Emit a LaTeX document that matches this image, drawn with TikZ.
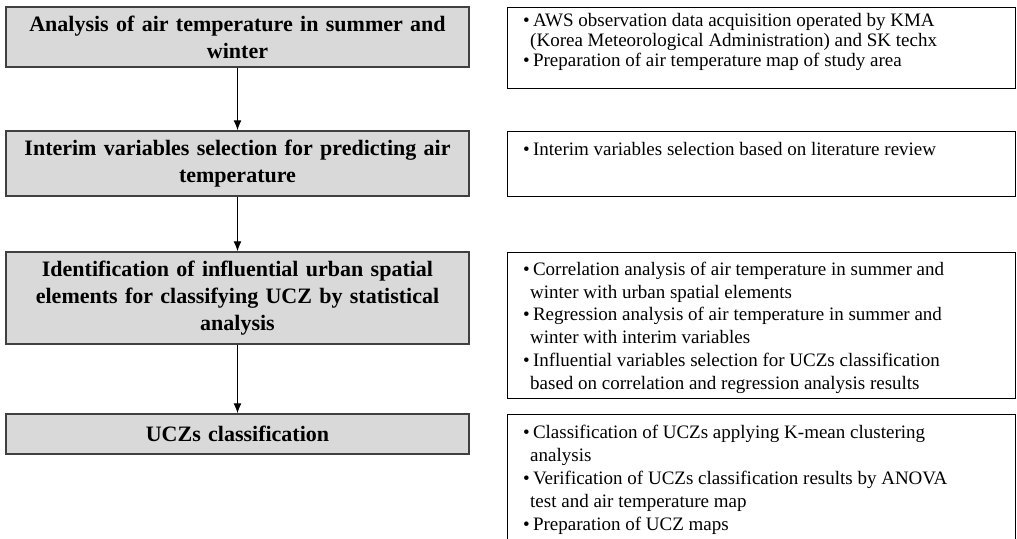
\documentclass[tikz,border=0pt]{standalone}
\usepackage{fontspec}
\setmainfont{Liberation Serif}
\usetikzlibrary{positioning,arrows.meta}

\tikzset{
  stage/.style={draw=black!75, line width=1.5pt, fill=black!15, minimum width=463pt,
    text width=450pt, align=center, inner sep=0pt,
    font=\fontsize{22}{27}\selectfont\bfseries},
  note/.style={draw=black, line width=1.2pt, minimum width=508pt, anchor=north west, inner sep=0pt},
  notetext/.style={anchor=north west, align=left, inner sep=0pt},
  flow/.style={-{Latex[length=10pt,width=8pt]}, line width=1.2pt}
}

\begin{document}
\begin{tikzpicture}[x=1pt,y=-1pt]
\useasboundingbox (0,0) rectangle (1017,538);
\clip (0,0) rectangle (1017,538);

% steps on the left
\node[stage, minimum height=60pt] (s1) at (237.5,37) {Analysis of air temperature in summer and\\winter};
\node[stage, minimum height=65pt] (s2) at (237.5,163.5) {Interim variables selection for predicting air\\temperature};
\node[stage, minimum height=92pt] (s3) at (237.5,298) {Identification of influential urban spatial\\elements for classifying UCZ by statistical\\analysis};
\node[stage, minimum height=40pt] (s4) at (237.5,434) {UCZs classification};

\draw[flow] (s1) -- (s2);
\draw[flow] (s2) -- (s3);
\draw[flow] (s3) -- (s4);

% details on the right
\node[note, minimum height=81pt] (n1) at (507,7) {};
\node[note, minimum height=65pt] (n2) at (507,131) {};
\node[note, minimum height=146pt] (n3) at (507,252) {};
\node[note, minimum height=135pt] (n4) at (507,414) {};

\node[notetext, font=\fontsize{19}{20}\selectfont] (t1) at ([shift={(16,6)}]n1.north west)
  {\textbullet\,AWS observation data acquisition operated by KMA\\
   \hspace*{7pt}(Korea Meteorological Administration) and SK techx\\
   \textbullet\,Preparation of air temperature map of study area};
\node[notetext, font=\fontsize{19}{22.7}\selectfont] (t2) at ([shift={(16,11)}]n2.north west)
  {\textbullet\,Interim variables selection based on literature review};
\node[notetext, font=\fontsize{19}{22.7}\selectfont] (t3) at ([shift={(16,10)}]n3.north west)
  {\textbullet\,Correlation analysis of air temperature in summer and\\
   \hspace*{7pt}winter with urban spatial elements\\
   \textbullet\,Regression analysis of air temperature in summer and\\
   \hspace*{7pt}winter with interim variables\\
   \textbullet\,Influential variables selection for UCZs classification\\
   \hspace*{7pt}based on correlation and regression analysis results};
\node[notetext, font=\fontsize{19}{23}\selectfont] (t4) at ([shift={(16,11)}]n4.north west)
  {\textbullet\,Classification of UCZs applying K-mean clustering\\
   \hspace*{7pt}analysis\\
   \textbullet\,Verification of UCZs classification results by ANOVA\\
   \hspace*{7pt}test and air temperature map\\
   \textbullet\,Preparation of UCZ maps};
\end{tikzpicture}
\end{document}
